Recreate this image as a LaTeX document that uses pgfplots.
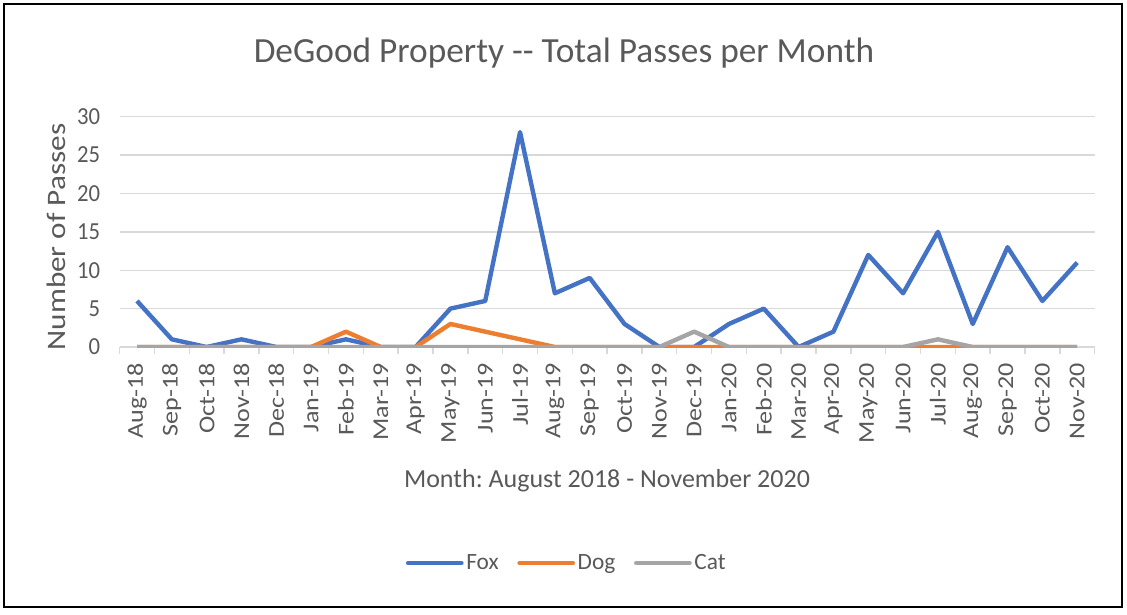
\documentclass[border=0pt]{standalone}
\usepackage{fontspec}
\setmainfont{Carlito}
\usepackage{pgfplots}
\pgfplotsset{compat=1.18}
\definecolor{foxblue}{HTML}{4472C4}
\definecolor{dogorange}{HTML}{ED7D31}
\definecolor{catgray}{HTML}{A5A5A5}
\definecolor{txtgray}{HTML}{595959}
\definecolor{gridgray}{HTML}{D9D9D9}

\begin{document}
\frenchspacing
\begin{tikzpicture}[x=0.75pt, y=-0.75pt]
% picture frame, in pixel units of the reference
\path[use as bounding box] (0,0) rectangle (1127,614);
\draw[black, line width=1.6pt] (4,4) rectangle (1122,607);

\begin{axis}[
    at={(89.7pt,-260.25pt)}, anchor=south west,
    scale only axis,
    width=731.25pt, height=172.7pt,
    xmin=-0.5, xmax=27.5,
    ymin=0, ymax=30,
    ytick={0,5,...,30},
    xtick={0,...,27},
    xticklabels={Aug-18,Sep-18,Oct-18,Nov-18,Dec-18,Jan-19,Feb-19,Mar-19,Apr-19,May-19,Jun-19,Jul-19,Aug-19,Sep-19,Oct-19,Nov-19,Dec-19,Jan-20,Feb-20,Mar-20,Apr-20,May-20,Jun-20,Jul-20,Aug-20,Sep-20,Oct-20,Nov-20},
    minor xtick={-0.5,0.5,...,27.5},
    major tick length=0pt,
    minor tick length=5.5pt,
    tick align=outside,
    tick style={gridgray, line width=1.1pt},
    axis lines*=left,
    axis line style={-},
    x axis line style={gridgray, line width=1.1pt},
    y axis line style={draw=none},
    ymajorgrids,
    major grid style={gridgray, line width=1.1pt},
    /pgf/number format/assume math mode=true,
    tick label style={font=\fontsize{17}{20}\selectfont, text=txtgray},
    xticklabel style={rotate=90, xscale=1.15, anchor=east, xshift=-7pt},
    yticklabel style={anchor=east, xshift=-11pt, yscale=1.08},
    legend style={at={(0.459,-0.938)}, anchor=center, draw=none, fill=none,
        font=\fontsize{17.5}{20}\selectfont, text=txtgray, legend columns=3,
        /tikz/every even column/.append style={column sep=12pt}},
    legend image code/.code={\draw[#1, line cap=round] (0pt,0pt) -- (40pt,0pt);},
    every axis plot/.append style={line width=3.3pt, line join=round},
]
\addplot[foxblue] coordinates {
    (0,6) (1,1) (2,0) (3,1) (4,0) (5,0) (6,1) (7,0) (8,0) (9,5)
    (10,6) (11,28) (12,7) (13,9) (14,3) (15,0) (16,0) (17,3) (18,5) (19,0)
    (20,2) (21,12) (22,7) (23,15) (24,3) (25,13) (26,6) (27,11)
};
\addlegendentry{Fox}
\addplot[dogorange] coordinates {
    (0,0) (1,0) (2,0) (3,0) (4,0) (5,0) (6,2) (7,0) (8,0) (9,3)
    (10,2) (11,1) (12,0) (13,0) (14,0) (15,0) (16,0) (17,0) (18,0) (19,0)
    (20,0) (21,0) (22,0) (23,0) (24,0) (25,0) (26,0) (27,0)
};
\addlegendentry{Dog}
\addplot[catgray] coordinates {
    (0,0) (1,0) (2,0) (3,0) (4,0) (5,0) (6,0) (7,0) (8,0) (9,0)
    (10,0) (11,0) (12,0) (13,0) (14,0) (15,0) (16,2) (17,0) (18,0) (19,0)
    (20,0) (21,0) (22,0) (23,1) (24,0) (25,0) (26,0) (27,0)
};
\addlegendentry{Cat}
\end{axis}

\node[text=txtgray, font=\fontsize{26.5}{30}\selectfont] at (564,53) {DeGood Property -{}- Total Passes per Month};
\node[text=txtgray, font=\fontsize{19.5}{24}\selectfont] at (607,481) {Month: August 2018 - November 2020};
\node[text=txtgray, font=\fontsize{20}{24}\selectfont, rotate=90, xscale=1.17] at (56,237) {Number of Passes};
\end{tikzpicture}
\end{document}
